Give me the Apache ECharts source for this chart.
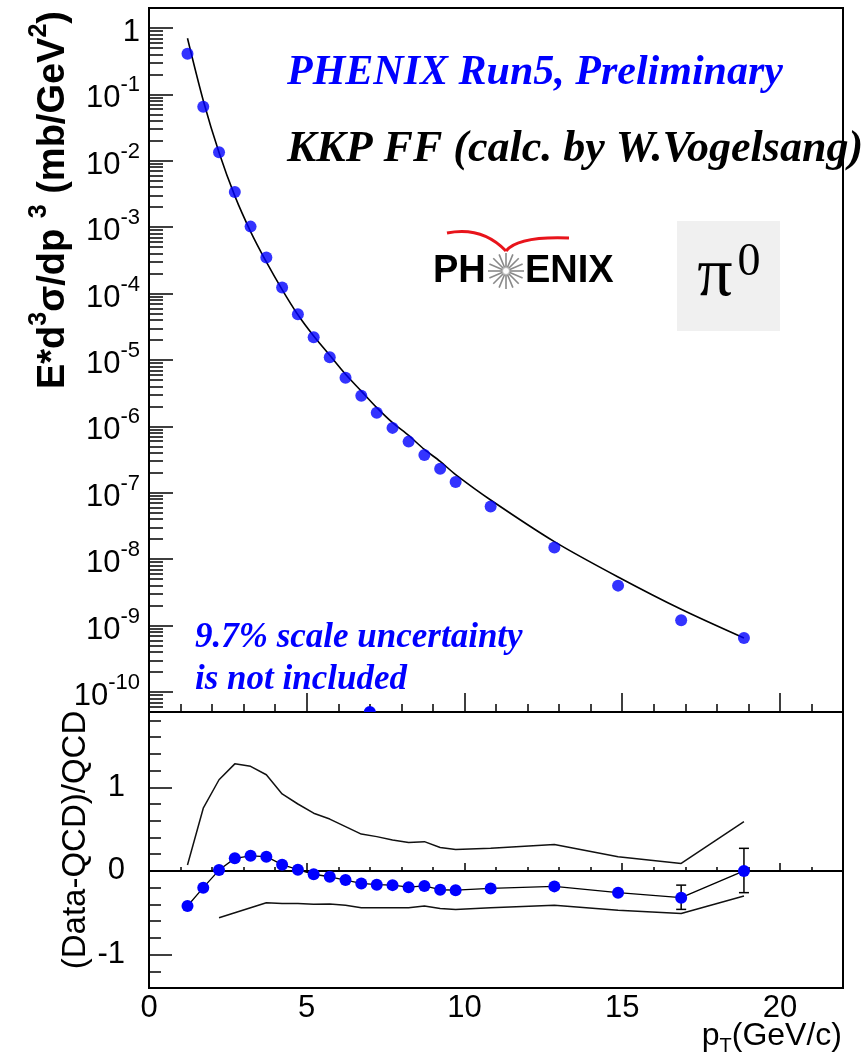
<!DOCTYPE html>
<html>
<head>
<meta charset="utf-8">
<script src="https://cdn.jsdelivr.net/npm/echarts@6/dist/echarts.min.js"></script>
<style>
  html, body { margin: 0; padding: 0; background: #fff; }
  #chart { width: 866px; height: 1061px; }
</style>
</head>
<body>
<div id="chart"></div>
<script>
// pi0 invariant cross section, PHENIX Run5 (preliminary), with KKP NLO pQCD curve
const ptBins = [1.22, 1.72, 2.22, 2.72, 3.22, 3.72, 4.22, 4.72, 5.22, 5.73, 6.23, 6.73,
                7.22, 7.72, 8.23, 8.73, 9.23, 9.72, 10.83, 12.85, 14.87, 16.87, 18.86];
const crossSection = [0.41, 0.065, 0.0134, 3.4e-3, 1.02e-3, 3.5e-4, 1.24e-4, 4.9e-5,
                      2.2e-5, 1.1e-5, 5.4e-6, 2.9e-6, 1.6e-6, 9.5e-7, 5.9e-7, 3.7e-7,
                      2.3e-7, 1.45e-7, 6.2e-8, 1.5e-8, 4.0e-9, 1.2e-9, 6.5e-10];
const kkpCurve = [0.70, 0.081, 0.0133, 2.96e-3, 8.6e-4, 3.0e-4, 1.15e-4, 4.8e-5,
                  2.3e-5, 1.18e-5, 6.1e-6, 3.4e-6, 1.92e-6, 1.14e-6, 7.3e-7, 4.5e-7,
                  2.97e-7, 1.88e-7, 7.8e-8, 1.84e-8, 5.4e-9, 1.76e-9, 6.5e-10];
// point sitting on the lower edge of the cross-section frame
const belowRangePt = [7.0];
const belowRangeValue = [5e-11];

// (Data-QCD)/QCD
const ratio = [-0.42, -0.20, 0.01, 0.15, 0.18, 0.17, 0.075, 0.015, -0.04, -0.07, -0.11, -0.15,
               -0.165, -0.17, -0.195, -0.18, -0.225, -0.23, -0.21, -0.185, -0.26, -0.32, 0.0];
const ratioErrPt = [16.87, 18.86];
const ratioErrLow = [-0.46, -0.26];
const ratioErrHigh = [-0.17, 0.27];
// theory scale band (upper / lower)
const bandUpper = [0.07, 0.75, 1.09, 1.28, 1.25, 1.15, 0.92, 0.80, 0.69, 0.62, 0.53, 0.44,
                   0.41, 0.37, 0.34, 0.35, 0.28, 0.255, 0.27, 0.315, 0.17, 0.09, 0.59];
const bandLowerPt = [2.22, 3.72, 4.22, 4.72, 5.22, 5.73, 6.23, 6.73, 7.22, 7.72, 8.23, 8.73,
                     9.23, 9.72, 10.83, 12.85, 14.87, 16.87, 18.86];
const bandLower = [-0.56, -0.38, -0.39, -0.39, -0.40, -0.395, -0.41, -0.44, -0.44, -0.44, -0.44,
                   -0.42, -0.45, -0.46, -0.44, -0.41, -0.47, -0.51, -0.30];

// axis ticks
const xMajorTicks = [0, 5, 10, 15, 20];
const xMinorTicks = [1, 2, 3, 4, 6, 7, 8, 9, 11, 12, 13, 14, 16, 17, 18, 19, 21];
const decadeTicks = [1, 1e-1, 1e-2, 1e-3, 1e-4, 1e-5, 1e-6, 1e-7, 1e-8, 1e-9, 1e-10];
const ratioMajorTicks = [-1, 0, 1];

const FONT = '"Liberation Sans", Arial, sans-serif';
const SERIF = '"Liberation Serif", "Times New Roman", serif';
const BLUE = '#0000ff';

const logMin = 5e-11, logMax = 2;
const ratioMin = -1.4, ratioMax = 1.9;

// 2..9 x 10^n minor ticks inside the log range
const logMinorTicks = [];
for (let e = -11; e <= 0; e++) {
  for (let k = 2; k <= 9; k++) {
    const v = k * Math.pow(10, e);
    if (v >= logMin && v <= logMax) logMinorTicks.push(v);
  }
}
const ratioMinorTicks = [];
for (let i = -7; i <= 9; i++) ratioMinorTicks.push(+(i * 0.2).toFixed(1));

const zip = (xs, ys) => xs.map((x, i) => [x, ys[i]]);

const tickLine = { lineStyle: { color: '#000', width: 1.5 } };

const chart = echarts.init(document.getElementById('chart'), null, { renderer: 'canvas' });

const starRays = [];
for (let i = 0; i < 16; i++) {
  const a = i * Math.PI / 8;
  starRays.push({
    type: 'line',
    shape: { x1: 506 + 3.5 * Math.cos(a), y1: 271 + 3.5 * Math.sin(a),
             x2: 506 + 18 * Math.cos(a), y2: 271 + 18 * Math.sin(a) },
    style: { stroke: '#8a8a8a', lineWidth: 1.6 }
  });
}

const option = {
  animation: false,
  backgroundColor: '#fff',
  grid: [
    { left: 149, top: 8, width: 694, height: 704, show: true, borderColor: '#000', borderWidth: 2, backgroundColor: 'transparent' },
    { left: 149, top: 712, width: 694, height: 276, show: true, borderColor: '#000', borderWidth: 2, backgroundColor: 'transparent' }
  ],
  xAxis: [
    { gridIndex: 0, type: 'value', position: 'bottom', min: 0, max: 22,
      axisLine: { show: true, lineStyle: { color: '#000', width: 2 } },
      axisTick: { show: true, inside: true, length: 19, customValues: xMajorTicks, ...tickLine },
      axisLabel: { show: false }, splitLine: { show: false } },
    { gridIndex: 0, type: 'value', position: 'bottom', min: 0, max: 22,
      axisLine: { show: false },
      axisTick: { show: true, inside: true, length: 8, customValues: xMinorTicks, ...tickLine },
      axisLabel: { show: false }, splitLine: { show: false } },
    { gridIndex: 1, type: 'value', position: 'bottom', min: 0, max: 22,
      axisLine: { show: true, lineStyle: { color: '#000', width: 2 } },
      axisTick: { show: true, inside: true, length: 8, customValues: xMajorTicks, ...tickLine },
      axisLabel: { show: true, customValues: xMajorTicks, fontFamily: FONT, fontSize: 31, color: '#000', margin: 5 },
      splitLine: { show: false } },
    { gridIndex: 1, type: 'value', position: 'bottom', min: 0, max: 22,
      axisLine: { show: false },
      axisTick: { show: true, inside: true, length: 4, customValues: xMinorTicks, ...tickLine },
      axisLabel: { show: false }, splitLine: { show: false } }
  ],
  yAxis: [
    { gridIndex: 0, type: 'log', position: 'left', min: logMin, max: logMax,
      axisLine: { show: true, lineStyle: { color: '#000', width: 2 } },
      axisTick: { show: true, inside: true, length: 24, customValues: decadeTicks, ...tickLine },
      axisLabel: {
        show: true, customValues: decadeTicks, margin: 9,
        formatter: v => {
          const e = Math.round(Math.log10(v));
          return e === 0 ? '{b|1}' : '{b|10}{s|' + e + '}';
        },
        rich: {
          b: { fontFamily: FONT, fontSize: 31, color: '#000', lineHeight: 40, verticalAlign: 'bottom' },
          s: { fontFamily: FONT, fontSize: 22, color: '#000', lineHeight: 16, verticalAlign: 'top' }
        }
      },
      splitLine: { show: false } },
    { gridIndex: 0, type: 'log', position: 'left', min: logMin, max: logMax,
      axisLine: { show: false },
      axisTick: { show: true, inside: true, length: 14, customValues: logMinorTicks, ...tickLine },
      axisLabel: { show: false }, splitLine: { show: false } },
    { gridIndex: 1, type: 'value', position: 'left', min: ratioMin, max: ratioMax,
      axisLine: { show: true, lineStyle: { color: '#000', width: 2 } },
      axisTick: { show: true, inside: true, length: 23, customValues: ratioMajorTicks, ...tickLine },
      axisLabel: { show: true, customValues: ratioMajorTicks, fontFamily: FONT, fontSize: 31, color: '#000', margin: 24 },
      splitLine: { show: false } },
    { gridIndex: 1, type: 'value', position: 'left', min: ratioMin, max: ratioMax,
      axisLine: { show: false },
      axisTick: { show: true, inside: true, length: 12, customValues: ratioMinorTicks, ...tickLine },
      axisLabel: { show: false }, splitLine: { show: false } }
  ],
  series: [
    { name: 'KKP', type: 'line', xAxisIndex: 0, yAxisIndex: 0,
      data: zip(ptBins, kkpCurve), smooth: 0.3, showSymbol: false, symbol: 'none',
      lineStyle: { color: '#000', width: 1.6 }, z: 3 },
    { name: 'PHENIX', type: 'scatter', xAxisIndex: 0, yAxisIndex: 0,
      data: zip(ptBins, crossSection), symbol: 'circle', symbolSize: 12,
      itemStyle: { color: BLUE }, z: 5 },
    { name: 'edge', type: 'custom', xAxisIndex: 0, yAxisIndex: 0, clip: true,
      data: zip(belowRangePt, belowRangeValue),
      renderItem: (params, api) => {
        const p = api.coord([api.value(0), api.value(1)]);
        return { type: 'circle', shape: { cx: p[0], cy: p[1], r: 6 }, style: { fill: BLUE } };
      }, z: 5 },
    { name: 'bandUpper', type: 'line', xAxisIndex: 2, yAxisIndex: 2,
      data: zip(ptBins, bandUpper), symbol: 'none', lineStyle: { color: '#111', width: 1.5 }, z: 3 },
    { name: 'bandLower', type: 'line', xAxisIndex: 2, yAxisIndex: 2,
      data: zip(bandLowerPt, bandLower), symbol: 'none', lineStyle: { color: '#111', width: 1.5 }, z: 3 },
    { name: 'ratio', type: 'line', xAxisIndex: 2, yAxisIndex: 2,
      data: zip(ptBins, ratio), symbol: 'circle', symbolSize: 12, showAllSymbol: true,
      lineStyle: { color: '#000', width: 1.3 }, itemStyle: { color: BLUE, borderWidth: 0 }, z: 5,
      markLine: {
        silent: true, symbol: 'none', label: { show: false },
        lineStyle: { color: '#000', width: 1.6, type: 'solid' },
        data: [{ yAxis: 0 }]
      } },
    { name: 'ratioErr', type: 'custom', xAxisIndex: 2, yAxisIndex: 2,
      data: ratioErrPt.map((x, i) => [x, ratioErrLow[i], ratioErrHigh[i]]),
      renderItem: (params, api) => {
        const lo = api.coord([api.value(0), api.value(1)]);
        const hi = api.coord([api.value(0), api.value(2)]);
        const w = 5;
        const st = { stroke: '#000', lineWidth: 1.5 };
        return { type: 'group', children: [
          { type: 'line', shape: { x1: lo[0], y1: lo[1], x2: hi[0], y2: hi[1] }, style: st },
          { type: 'line', shape: { x1: lo[0] - w, y1: lo[1], x2: lo[0] + w, y2: lo[1] }, style: st },
          { type: 'line', shape: { x1: hi[0] - w, y1: hi[1], x2: hi[0] + w, y2: hi[1] }, style: st }
        ] };
      }, z: 4 }
  ],
  graphic: [
    // axis titles
    { type: 'text', x: 50, y: 200, rotation: Math.PI / 2,
      style: { text: '{b|E*d}{s|3}{b|σ/dp }{s|3}{b| (mb/GeV}{s|2}{b|)}', align: 'center', verticalAlign: 'middle',
        rich: {
          b: { fontFamily: FONT, fontWeight: 'bold', fontSize: 38, fill: '#000', lineHeight: 46, verticalAlign: 'bottom' },
          s: { fontFamily: FONT, fontWeight: 'bold', fontSize: 25, fill: '#000', lineHeight: 24, verticalAlign: 'top' }
        } } },
    { type: 'text', x: 76, y: 840, rotation: Math.PI / 2,
      style: { text: '(Data-QCD)/QCD', align: 'center', verticalAlign: 'middle',
        font: '33px ' + FONT, fill: '#000' } },
    { type: 'text', x: 842, y: 1038,
      style: { text: '{b|p}{t|T}{b|(GeV/c)}', align: 'right', verticalAlign: 'middle',
        rich: {
          b: { fontFamily: FONT, fontSize: 32, fill: '#000', lineHeight: 36, verticalAlign: 'top' },
          t: { fontFamily: FONT, fontSize: 20, fill: '#000', lineHeight: 10, verticalAlign: 'bottom' }
        } } },
    // annotations
    { type: 'text', x: 287, y: 73,
      style: { text: 'PHENIX Run5, Preliminary', align: 'left', verticalAlign: 'middle',
        font: 'italic bold 42px ' + SERIF, fill: BLUE } },
    { type: 'text', x: 287, y: 150,
      style: { text: 'KKP FF (calc. by W.Vogelsang)', align: 'left', verticalAlign: 'middle',
        font: 'italic bold 44px ' + SERIF, fill: '#000' } },
    { type: 'text', x: 195, y: 638,
      style: { text: '9.7% scale uncertainty', align: 'left', verticalAlign: 'middle',
        font: 'italic bold 35px ' + SERIF, fill: BLUE } },
    { type: 'text', x: 195, y: 680,
      style: { text: 'is not included', align: 'left', verticalAlign: 'middle',
        font: 'italic bold 35px ' + SERIF, fill: BLUE } },
    // PHENIX logo
    { type: 'group', children: [
      { type: 'bezierCurve', shape: { x1: 447, y1: 233, cpx1: 482, cpy1: 226, x2: 506, y2: 251 },
        style: { stroke: '#e8141b', lineWidth: 3, fill: null } },
      { type: 'bezierCurve', shape: { x1: 506, y1: 251, cpx1: 518, cpy1: 236, x2: 569, y2: 238 },
        style: { stroke: '#e8141b', lineWidth: 3, fill: null } },
      { type: 'text', x: 433, y: 272,
        style: { text: 'PH', align: 'left', verticalAlign: 'middle', font: 'bold 38px ' + FONT, fill: '#000' } },
      { type: 'text', x: 525, y: 272,
        style: { text: 'ENIX', align: 'left', verticalAlign: 'middle', font: 'bold 38px ' + FONT, fill: '#000' } },
      ...starRays,
      { type: 'circle', shape: { cx: 506, cy: 271, r: 3.5 }, style: { fill: '#fff', stroke: '#aaa', lineWidth: 0.8 } }
    ] },
    // pi0 badge
    { type: 'rect', shape: { x: 677, y: 221, width: 103, height: 110 }, style: { fill: '#f0f0f0' } },
    { type: 'text', x: 715, y: 277,
      style: { text: 'π', align: 'center', verticalAlign: 'middle', font: '70px ' + SERIF, fill: '#000' } },
    { type: 'text', x: 749, y: 263,
      style: { text: '0', align: 'center', verticalAlign: 'middle', font: '46px ' + SERIF, fill: '#000' } }
  ]
};

chart.setOption(option);
</script>
</body>
</html>
